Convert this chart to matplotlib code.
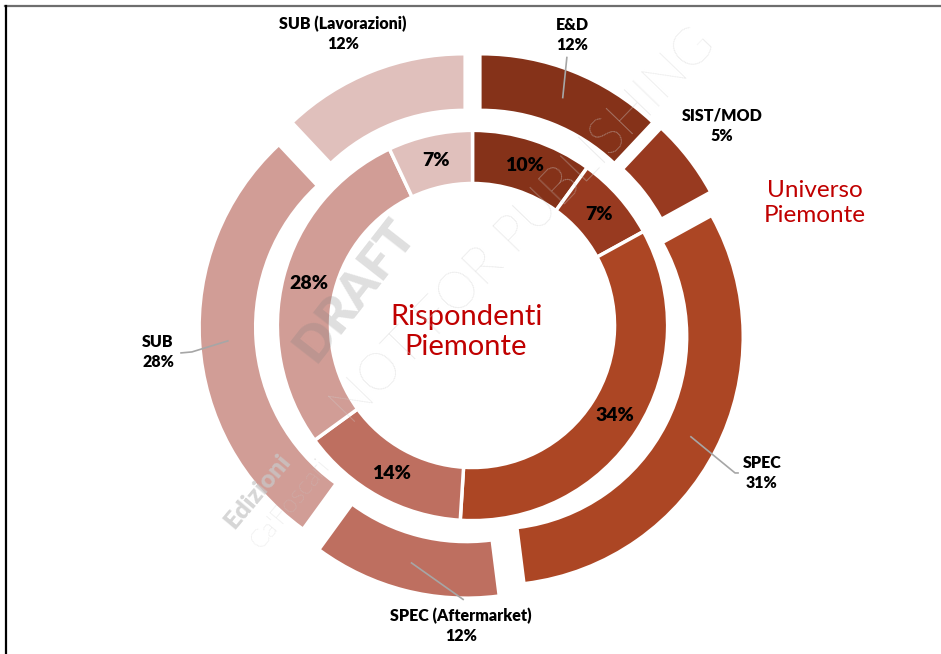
import numpy as np
import matplotlib.pyplot as plt
from matplotlib.lines import Line2D

plt.rcParams['font.family'] = ['Lato', 'DejaVu Sans']

# anello esterno: universo Piemonte
outer_labels = ['E&D', 'SIST/MOD', 'SPEC', 'SPEC (Aftermarket)', 'SUB', 'SUB (Lavorazioni)']
outer_values = [12, 5, 31, 12, 28, 12]
# anello interno: rispondenti Piemonte
inner_values = [10, 7, 34, 14, 28, 7]

colors = ['#853219', '#983A20', '#AC4624', '#BE6F60', '#D19D96', '#E0C0BC']

# raggi in unita' dati (1 = raggio esterno)
R_OUT = 1.0
WIDTH = 0.215
R_IN = 0.79
EXPL = 0.10

# posizione delle etichette esterne e punto finale delle linee guida
label_pos = [(0.403, 1.176), (1.010, 0.808), (1.172, -0.597),
             (-0.047, -1.216), (-1.273, -0.107), (-0.524, 1.180)]
leader_end = [[(0.382, 1.085)],
              None,
              [(1.063, -0.597), (1.075, -0.597)],
              [(-0.038, -1.109)],
              [(-1.136, -0.107), (-1.180, -0.111)],
              None]

fig = plt.figure(figsize=(9.41, 6.54), dpi=100)
ax = fig.add_axes([0, 0, 1, 1])
px = 247.0
cx, cy = 472.5, 325.5

ax.pie(outer_values, colors=colors, radius=R_OUT, startangle=90, counterclock=False,
       explode=[EXPL] * len(outer_values),
       wedgeprops=dict(width=WIDTH, edgecolor='none'), frame=False)
ax.pie(inner_values, colors=colors, radius=R_IN, startangle=90, counterclock=False,
       wedgeprops=dict(width=WIDTH, edgecolor='white', linewidth=2.5), frame=False)
ax.set_xlim(-cx / px, (941 - cx) / px)
ax.set_ylim(-(654 - cy) / px, cy / px)
ax.set_aspect('equal')
ax.axis('off')

# etichette dell'anello interno
start = 90.0
for v in inner_values:
    mid = np.deg2rad(start - v * 3.6 / 2)
    r = R_IN - WIDTH / 2
    ax.text(r * np.cos(mid), r * np.sin(mid), f'{v}%', ha='center', va='center',
            fontsize=14, fontweight='heavy', color='black')
    start -= v * 3.6

# etichette dell'anello esterno con linee guida
start = 90.0
for name, v, pos, ends in zip(outer_labels, outer_values, label_pos, leader_end):
    mid = np.deg2rad(start - v * 3.6 / 2)
    start -= v * 3.6
    ax.text(pos[0], pos[1], f'{name}\n{v}%', ha='center', va='center',
            fontsize=11.5, fontweight='heavy', color='black', linespacing=1.3)
    if ends is None:
        continue
    r = R_OUT - WIDTH / 2
    x0 = EXPL * np.cos(mid) + r * np.cos(mid)
    y0 = EXPL * np.sin(mid) + r * np.sin(mid)
    xs = [x0] + [p[0] for p in ends]
    ys = [y0] + [p[1] for p in ends]
    ax.plot(xs, ys, color='#A6A6A6', lw=1.2, zorder=3)

ax.text(-0.026, -0.026, 'Rispondenti\nPiemonte', ha='center', va='center',
        fontsize=21, color='#C00000', linespacing=1.2)
ax.text(1.387, 0.496, 'Universo\nPiemonte', ha='center', va='center',
        fontsize=17.5, color='#C00000', linespacing=1.2)

# filigrana
ax.text(-0.476, 0.144, 'DRAFT', rotation=52, ha='center', va='center',
        fontsize=36, fontweight='heavy', color='gray', alpha=0.25, zorder=5)
ax.text(0.21, 0.40, 'NOT FOR PUBLISHING', rotation=46, ha='center', va='center',
        fontsize=37, fontweight='light', color='#D0D0D0', alpha=0.6, zorder=5)
ax.text(-0.87, -0.67, 'Edizioni', rotation=50, ha='center', va='center',
        fontsize=18, fontweight='heavy', color='#C8C8C8', alpha=0.75, zorder=5)
ax.text(-0.74, -0.72, "Ca'Foscari", rotation=50, ha='center', va='center',
        fontsize=18, fontweight='light', color='#C8C8C8', alpha=0.75, zorder=5)

# cornice
fig.add_artist(Line2D([5 / 941, 1], [1 - 5.5 / 654, 1 - 5.5 / 654],
                      color='#6E6E6E', lw=1.6, transform=fig.transFigure))
fig.add_artist(Line2D([5.5 / 941, 5.5 / 941], [0, 1 - 5.5 / 654],
                      color='black', lw=1.6, transform=fig.transFigure))

fig.savefig('out.png', dpi=100)
